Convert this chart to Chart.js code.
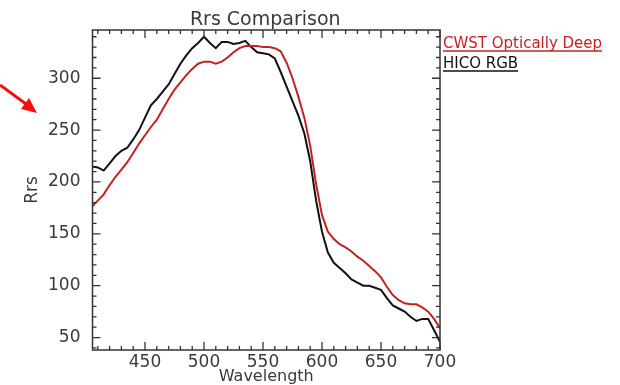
<!DOCTYPE html>
<html>
<head>
<meta charset="utf-8">
<script src="https://cdn.jsdelivr.net/npm/chart.js@4/dist/chart.umd.min.js"></script>
<style>
  html, body { margin: 0; padding: 0; background: #fff; }
  #wrap { width: 620px; height: 385px; }
</style>
</head>
<body>
<div id="wrap"><canvas id="rrsChart"></canvas></div>
<script>
// Data
const wavelengths = [405, 410, 415, 420, 425, 430, 435, 440, 445, 450,
  455, 460, 465, 470, 475, 480, 485, 490, 495, 500,
  505, 510, 515, 520, 525, 530, 535, 540, 545, 550,
  555, 560, 565, 570, 575, 580, 585, 590, 595, 600,
  605, 610, 615, 620, 625, 630, 635, 640, 645, 650,
  655, 660, 665, 670, 675, 680, 685, 690, 695, 700];

const cwstDeep = [176, 182, 188, 197, 205, 212, 219, 228, 237, 245,
  253, 260, 270, 280, 289, 296, 303, 309, 314, 316,
  316, 314, 316, 320, 325, 329, 331, 331, 331, 330,
  330, 329, 326, 315, 300, 282, 262, 235, 198, 168,
  152, 145, 140, 137, 133, 128, 124, 119, 114, 108,
  99, 91, 86, 83, 82, 82, 79, 75, 68, 59];

const hicoRgb = [215, 214, 211, 218, 225, 230, 233, 241, 250, 262,
  274, 280, 287, 294, 304, 314, 322, 329, 334, 340,
  334, 329, 335, 335, 333, 334, 336, 330, 325, 324,
  323, 319, 306, 292, 278, 264, 247, 220, 182, 152,
  132, 122, 117, 112, 106, 103, 100, 100, 98, 96,
  88, 81, 78, 75, 70, 66, 68, 68, 57, 46];

const xTicks = [450, 500, 550, 600, 650, 700];
const yTicks = [50, 100, 150, 200, 250, 300];

const seriesNames = ['CWST Optically Deep', 'HICO RGB'];
const seriesColors = ['#c42222', '#111111'];

const font = 'DejaVu Sans';
const textColor = '#3a3a3a';

function toPoints(vals) {
  return vals.map((v, i) => ({ x: wavelengths[i], y: v }));
}

// frame, inward ticks, legend, titles and the red arrow
const decorations = {
  id: 'decorations',
  afterDatasetsDraw(chart) {
    const ctx = chart.ctx;
    const a = chart.chartArea;
    const xs = chart.scales.x;
    const ys = chart.scales.y;
    ctx.save();
    ctx.strokeStyle = '#333';
    ctx.lineWidth = 1.5;
    ctx.strokeRect(a.left, a.top, a.right - a.left, a.bottom - a.top);

    ctx.lineWidth = 1.3;
    ctx.beginPath();
    for (let w = 410; w <= 700; w += 10) {
      const px = xs.getPixelForValue(w);
      const len = (w % 50 === 0) ? 8 : 4;
      ctx.moveTo(px, a.bottom); ctx.lineTo(px, a.bottom - len);
      ctx.moveTo(px, a.top); ctx.lineTo(px, a.top + len);
    }
    for (let v = 40; v <= 340; v += 10) {
      const py = ys.getPixelForValue(v);
      const len = (v % 50 === 0) ? 8 : 4;
      ctx.moveTo(a.left, py); ctx.lineTo(a.left + len, py);
      ctx.moveTo(a.right, py); ctx.lineTo(a.right - len, py);
    }
    ctx.stroke();

    // title + axis titles
    ctx.fillStyle = textColor;
    ctx.font = '19px "' + font + '"';
    ctx.textAlign = 'center';
    ctx.textBaseline = 'alphabetic';
    ctx.fillText('Rrs Comparison', (a.left + a.right) / 2 - 1, 25);
    ctx.font = '16px "' + font + '"';
    ctx.fillText('Wavelength', (a.left + a.right) / 2, 381);
    ctx.save();
    ctx.translate(37, 190);
    ctx.rotate(-Math.PI / 2);
    ctx.font = '17px "' + font + '"';
    ctx.fillText('Rrs', 0, 0);
    ctx.restore();

    // legend, underlined text
    ctx.font = '15px "' + font + '"';
    ctx.textAlign = 'left';
    seriesNames.forEach((name, i) => {
      const y = 48 + i * 20;
      const w = ctx.measureText(name).width;
      ctx.fillStyle = seriesColors[i];
      ctx.fillText(name, a.right + 3, y);
      ctx.strokeStyle = seriesColors[i];
      ctx.lineWidth = 1.3;
      ctx.beginPath();
      ctx.moveTo(a.right + 3, y + 3);
      ctx.lineTo(a.right + 3 + w, y + 3);
      ctx.stroke();
    });

    // red pointer arrow on the left
    ctx.strokeStyle = '#f01010';
    ctx.fillStyle = '#f01010';
    ctx.lineWidth = 3;
    ctx.beginPath();
    ctx.moveTo(0, 85);
    ctx.lineTo(26, 104);
    ctx.stroke();
    ctx.beginPath();
    ctx.moveTo(37, 113);
    ctx.lineTo(21, 109);
    ctx.lineTo(29, 98);
    ctx.closePath();
    ctx.fill();
    ctx.restore();
  }
};

new Chart(document.getElementById('rrsChart'), {
  type: 'line',
  data: {
    datasets: [
      {
        label: seriesNames[0],
        data: toPoints(cwstDeep),
        borderColor: seriesColors[0],
        borderWidth: 2,
        pointRadius: 0,
        tension: 0
      },
      {
        label: seriesNames[1],
        data: toPoints(hicoRgb),
        borderColor: seriesColors[1],
        borderWidth: 2,
        pointRadius: 0,
        tension: 0
      }
    ]
  },
  options: {
    responsive: true,
    maintainAspectRatio: false,
    animation: false,
    devicePixelRatio: 1,
    layout: { padding: { top: 30, right: 180, left: 0, bottom: 0 } },
    plugins: {
      legend: { display: false },
      title: { display: false },
      tooltip: { enabled: false }
    },
    scales: {
      x: {
        type: 'linear',
        min: 405.5,
        max: 700,
        grid: { display: false, drawTicks: false },
        border: { display: false },
        afterBuildTicks: s => { s.ticks = xTicks.map(v => ({ value: v })); },
        afterFit: s => { s.height = 35; },
        ticks: {
          padding: 2,
          maxRotation: 0,
          color: textColor,
          font: { family: font, size: 17 }
        }
      },
      y: {
        min: 38,
        max: 346.5,
        grid: { display: false, drawTicks: false },
        border: { display: false },
        afterBuildTicks: s => { s.ticks = yTicks.map(v => ({ value: v })); },
        afterFit: s => { s.width = 92.5; },
        ticks: {
          padding: 12,
          color: textColor,
          font: { family: font, size: 17 }
        }
      }
    }
  },
  plugins: [decorations]
});
</script>
</body>
</html>
